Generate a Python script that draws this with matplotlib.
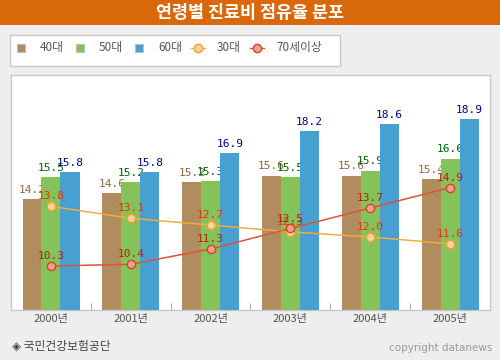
import numpy as np
import matplotlib
matplotlib.use("Agg")
import matplotlib.pyplot as plt
from matplotlib.patches import Rectangle
from matplotlib.lines import Line2D

plt.rcParams['font.family'] = ['Noto Sans CJK KR', 'DejaVu Sans']

# 데이터
years = ['2000년', '2001년', '2002년', '2003년', '2004년', '2005년']
age40 = [14.2, 14.6, 15.2, 15.6, 15.6, 15.4]
age50 = [15.5, 15.2, 15.3, 15.5, 15.9, 16.6]
age60 = [15.8, 15.8, 16.9, 18.2, 18.6, 18.9]
age30 = [13.8, 13.1, 12.7, 12.3, 12.0, 11.6]
age70 = [10.3, 10.4, 11.3, 12.5, 13.7, 14.9]

bar_names = ['40대', '50대', '60대']
line_names = ['30대', '70세이상']

W, H = 500, 360
fig = plt.figure(figsize=(W / 100, H / 100), dpi=100)
fig.patch.set_facecolor('#EEEEEE')

def fx(px):
    return px / W

def fy(py):
    return 1 - py / H

# 제목 막대
fig.patches.append(Rectangle((0, fy(25)), 1, 25 / H, transform=fig.transFigure,
                             facecolor='#D9680A', edgecolor='none', zorder=0))
fig.text(0.5, fy(13), '연령별 진료비 점유율 분포', color='white', fontsize=12.5,
         fontweight='bold', ha='center', va='center')

# 범례 상자
fig.patches.append(Rectangle((fx(10), fy(66)), fx(330), 31 / H, transform=fig.transFigure,
                             facecolor='white', edgecolor='#C8C8C8', lw=1, zorder=0))

bar_colors = ['#B08C5E', '#86C25A', '#47A0D2']
lbl_colors = ['#8B6B42', '#006400', '#00008B']
line_colors = ['#F5AC3A', '#DA5533']
mk_face = ['#FFD29C', '#F0A08C']
mk_edge = ['#F2A030', '#D04628']
line_lbl = ['#FF2A00', '#B42010']

ax = fig.add_axes([fx(11), fy(310), fx(479), (310 - 75) / H])
ax.set_facecolor('white')
x = np.arange(len(years))
width = 0.24
offs = [-0.235, 0.0, 0.24]

z = 2
for vals, off, c, lc in zip([age40, age50, age60], offs, bar_colors, lbl_colors):
    ax.bar(x + off, vals, width=width, color=c, zorder=z)
    for xi, v in zip(x + off, vals):
        ax.annotate(f'{v:.1f}', (xi, v), xytext=(0, 3), textcoords='offset points',
                    ha='center', va='bottom', fontsize=8, color=lc,
                    family='DejaVu Sans Mono', zorder=z + 1)
    z += 2

for vals, c, fc, ec, lc in zip([age30, age70], line_colors, mk_face, mk_edge, line_lbl):
    ax.plot(x, vals, color=c, lw=1.1, marker='o', markersize=6,
            markerfacecolor=fc, markeredgecolor=ec, markeredgewidth=1, zorder=10)
    for xi, v in zip(x, vals):
        ax.annotate(f'{v:.1f}', (xi, v), xytext=(0, 3.5), textcoords='offset points',
                    ha='center', va='bottom', fontsize=8, color=lc,
                    family='DejaVu Sans Mono', zorder=11)

ax.set_xlim(-0.5, len(years) - 0.5)
ax.set_ylim(7.72, 21.5)
ax.set_yticks([])
ax.set_xticks(x)
ax.set_xticklabels(years, fontsize=8, color='#555555')
ax.set_xticks(np.arange(0.5, len(years) - 0.5, 1), minor=True)
ax.tick_params(axis='x', which='major', length=0, pad=3)
ax.tick_params(axis='x', which='minor', length=5, direction='in', color='#999999')
for s in ax.spines.values():
    s.set_color('#C8C8C8')
    s.set_linewidth(1)

# 범례 항목
items_x = [20, 79, 138, 197, 256]
text_x = [40, 99, 158, 217, 276]
names = bar_names + line_names
ly = fy(48)
for i in range(3):
    fig.patches.append(Rectangle((fx(items_x[i] - 3), ly - 4 / H), 8 / W, 8 / H,
                                 transform=fig.transFigure, facecolor=bar_colors[i],
                                 edgecolor='#BBBBBB', lw=0.8))
for j in range(2):
    cx = fx(items_x[3 + j] + 1)
    fig.add_artist(Line2D([cx - 7 / W, cx + 7 / W], [ly, ly], transform=fig.transFigure,
                          color=line_colors[j], lw=1))
    fig.add_artist(Line2D([cx], [ly], transform=fig.transFigure, marker='o', markersize=6,
                          markerfacecolor=mk_face[j], markeredgecolor=mk_edge[j]))
for tx, n in zip(text_x, names):
    fig.text(fx(tx), ly, n, fontsize=8.5, color='#555555', va='center', ha='left')

# 하단 문구
fig.text(fx(12), fy(346), '◈ 국민건강보험공단', fontsize=8.5, color='#444444',
         va='center', ha='left', family=['Noto Sans CJK KR', 'DejaVu Sans'])
fig.text(fx(492), fy(348), 'copyright datanews', fontsize=7.5, color='#999999',
         va='center', ha='right', family='DejaVu Sans')

fig.savefig('out.png', dpi=100, facecolor=fig.get_facecolor())
